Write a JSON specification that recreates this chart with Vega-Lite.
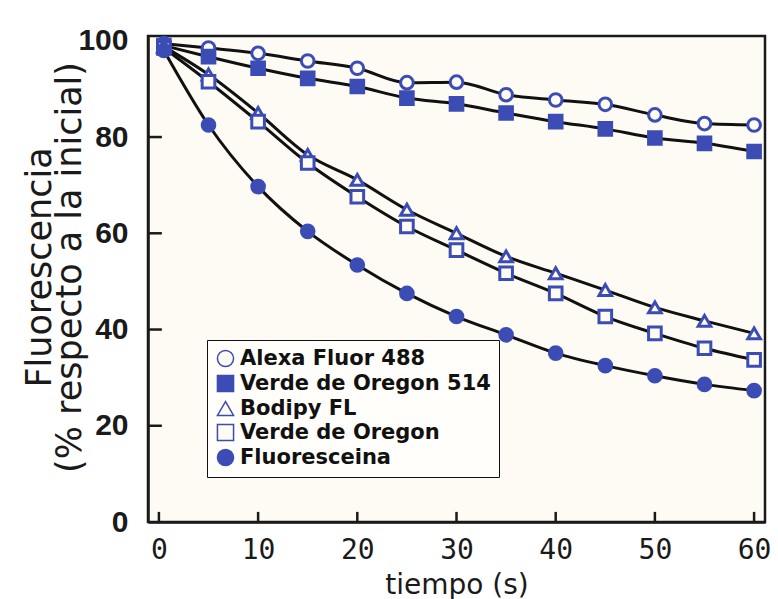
{
  "$schema": "https://vega.github.io/schema/vega-lite/v6.json",
  "width": 617,
  "height": 486,
  "autosize": {"type": "none"},
  "padding": {"left": 148, "top": 36, "right": 13, "bottom": 77},
  "background": "white",
  "config": {
    "view": {"fill": "#fdfbf4", "stroke": "#1a1a1a", "strokeWidth": 2.5},
    "axis": {"grid": false, "domainColor": "#1a1a1a", "domainWidth": 2.5, "tickColor": "#1a1a1a", "tickWidth": 2.5, "labelColor": "#1a1a1a", "titleColor": "#1a1a1a"},
    "legend": {"strokeColor": "#111111", "fillColor": "#fffefa"}
  },
  "data": {
    "values": [
      {"t": 0.5, "f": 99.4, "serie": "Alexa Fluor 488"},
      {"t": 5, "f": 98.5, "serie": "Alexa Fluor 488"},
      {"t": 10, "f": 97.4, "serie": "Alexa Fluor 488"},
      {"t": 15, "f": 95.8, "serie": "Alexa Fluor 488"},
      {"t": 20, "f": 94.3, "serie": "Alexa Fluor 488"},
      {"t": 25, "f": 91.3, "serie": "Alexa Fluor 488"},
      {"t": 30, "f": 91.4, "serie": "Alexa Fluor 488"},
      {"t": 35, "f": 88.8, "serie": "Alexa Fluor 488"},
      {"t": 40, "f": 87.7, "serie": "Alexa Fluor 488"},
      {"t": 45, "f": 86.8, "serie": "Alexa Fluor 488"},
      {"t": 50, "f": 84.6, "serie": "Alexa Fluor 488"},
      {"t": 55, "f": 82.8, "serie": "Alexa Fluor 488"},
      {"t": 60, "f": 82.5, "serie": "Alexa Fluor 488"},
      {"t": 0.5, "f": 99.0, "serie": "Verde de Oregon 514"},
      {"t": 5, "f": 96.7, "serie": "Verde de Oregon 514"},
      {"t": 10, "f": 94.3, "serie": "Verde de Oregon 514"},
      {"t": 15, "f": 92.2, "serie": "Verde de Oregon 514"},
      {"t": 20, "f": 90.5, "serie": "Verde de Oregon 514"},
      {"t": 25, "f": 88.1, "serie": "Verde de Oregon 514"},
      {"t": 30, "f": 86.9, "serie": "Verde de Oregon 514"},
      {"t": 35, "f": 85.0, "serie": "Verde de Oregon 514"},
      {"t": 40, "f": 83.2, "serie": "Verde de Oregon 514"},
      {"t": 45, "f": 81.7, "serie": "Verde de Oregon 514"},
      {"t": 50, "f": 79.8, "serie": "Verde de Oregon 514"},
      {"t": 55, "f": 78.7, "serie": "Verde de Oregon 514"},
      {"t": 60, "f": 77.0, "serie": "Verde de Oregon 514"},
      {"t": 0.5, "f": 98.8, "serie": "Bodipy FL"},
      {"t": 5, "f": 93.0, "serie": "Bodipy FL"},
      {"t": 10, "f": 85.0, "serie": "Bodipy FL"},
      {"t": 15, "f": 76.3, "serie": "Bodipy FL"},
      {"t": 20, "f": 71.1, "serie": "Bodipy FL"},
      {"t": 25, "f": 64.9, "serie": "Bodipy FL"},
      {"t": 30, "f": 60.0, "serie": "Bodipy FL"},
      {"t": 35, "f": 55.2, "serie": "Bodipy FL"},
      {"t": 40, "f": 51.7, "serie": "Bodipy FL"},
      {"t": 45, "f": 48.2, "serie": "Bodipy FL"},
      {"t": 50, "f": 44.6, "serie": "Bodipy FL"},
      {"t": 55, "f": 41.8, "serie": "Bodipy FL"},
      {"t": 60, "f": 39.2, "serie": "Bodipy FL"},
      {"t": 0.5, "f": 98.5, "serie": "Verde de Oregon"},
      {"t": 5, "f": 91.5, "serie": "Verde de Oregon"},
      {"t": 10, "f": 83.2, "serie": "Verde de Oregon"},
      {"t": 15, "f": 74.6, "serie": "Verde de Oregon"},
      {"t": 20, "f": 67.6, "serie": "Verde de Oregon"},
      {"t": 25, "f": 61.4, "serie": "Verde de Oregon"},
      {"t": 30, "f": 56.5, "serie": "Verde de Oregon"},
      {"t": 35, "f": 51.7, "serie": "Verde de Oregon"},
      {"t": 40, "f": 47.5, "serie": "Verde de Oregon"},
      {"t": 45, "f": 42.7, "serie": "Verde de Oregon"},
      {"t": 50, "f": 39.2, "serie": "Verde de Oregon"},
      {"t": 55, "f": 36.1, "serie": "Verde de Oregon"},
      {"t": 60, "f": 33.7, "serie": "Verde de Oregon"},
      {"t": 0.5, "f": 98.0, "serie": "Fluoresceina"},
      {"t": 5, "f": 82.5, "serie": "Fluoresceina"},
      {"t": 10, "f": 69.7, "serie": "Fluoresceina"},
      {"t": 15, "f": 60.4, "serie": "Fluoresceina"},
      {"t": 20, "f": 53.4, "serie": "Fluoresceina"},
      {"t": 25, "f": 47.5, "serie": "Fluoresceina"},
      {"t": 30, "f": 42.7, "serie": "Fluoresceina"},
      {"t": 35, "f": 38.9, "serie": "Fluoresceina"},
      {"t": 40, "f": 35.1, "serie": "Fluoresceina"},
      {"t": 45, "f": 32.5, "serie": "Fluoresceina"},
      {"t": 50, "f": 30.4, "serie": "Fluoresceina"},
      {"t": 55, "f": 28.6, "serie": "Fluoresceina"},
      {"t": 60, "f": 27.3, "serie": "Fluoresceina"}
    ]
  },
  "layer": [
    {
      "data": {"values": [{"v": 0}, {"v": 10}, {"v": 20}, {"v": 30}, {"v": 40}, {"v": 50}, {"v": 60}]},
      "mark": {"type": "rule", "color": "#1a1a1a", "strokeWidth": 2.5},
      "encoding": {
        "x": {
          "field": "v", "type": "quantitative",
          "scale": {"domain": [-1.1, 61.1], "nice": false, "zero": false},
          "axis": {"values": [0, 10, 20, 30, 40, 50, 60], "title": "tiempo (s)", "ticks": false, "labelFont": "DejaVu Sans Mono", "labelFontSize": 28, "labelPadding": 14, "titleFont": "DejaVu Sans", "titleFontSize": 28, "titleFontWeight": "normal", "titlePadding": 7}
        },
        "y": {"datum": 0, "type": "quantitative", "scale": {"domain": [0, 101], "nice": false},
          "axis": {"values": [0, 20, 40, 60, 80, 100], "title": ["Fluorescencia", "(% respecto a la inicial)"], "ticks": false, "labelFont": "Liberation Sans", "labelFontWeight": "bold", "labelFontSize": 30, "labelPadding": 20, "titleFont": "DejaVu Sans", "titleFontSize": 35, "titleFontWeight": "normal", "titleLineHeight": 30, "titlePadding": -10, "titleY": 231}},
        "y2": {"datum": 2.1}
      }
    },
    {
      "data": {"values": [{"v": 20}, {"v": 40}, {"v": 60}, {"v": 80}]},
      "mark": {"type": "rule", "color": "#1a1a1a", "strokeWidth": 2.5},
      "encoding": {
        "y": {"field": "v", "type": "quantitative"},
        "x": {"datum": -1.1, "type": "quantitative"},
        "x2": {"datum": 0.3}
      }
    },
    {
      "mark": {"type": "line", "color": "#111111", "strokeWidth": 3, "interpolate": "monotone"},
      "encoding": {
        "x": {"field": "t", "type": "quantitative"},
        "y": {"field": "f", "type": "quantitative"},
        "detail": {"field": "serie"}
      }
    },
    {
      "mark": {"type": "point", "filled": true, "stroke": "#3b4db5", "strokeWidth": 3, "opacity": 1, "size": 160},
      "encoding": {
        "x": {"field": "t", "type": "quantitative"},
        "y": {"field": "f", "type": "quantitative"},
        "shape": {
          "field": "serie", "type": "nominal",
          "scale": {"domain": ["Alexa Fluor 488", "Verde de Oregon 514", "Bodipy FL", "Verde de Oregon", "Fluoresceina"], "range": ["circle", "square", "triangle-up", "square", "circle"]},
          "legend": {"title": null, "orient": "none", "legendX": 59, "legendY": 304, "labelFont": "DejaVu Sans", "labelFontWeight": "bold", "labelFontSize": 21, "labelColor": "#111111", "symbolSize": 260, "rowPadding": 2, "padding": 8, "labelOffset": 4, "labelLimit": 400,
            "encode": {"symbols": {"update": {"stroke": {"value": "#3b4db5"}, "strokeWidth": {"value": 3}}}}}
        },
        "fill": {
          "field": "serie", "type": "nominal",
          "scale": {"domain": ["Alexa Fluor 488", "Verde de Oregon 514", "Bodipy FL", "Verde de Oregon", "Fluoresceina"], "range": ["#fdfbf4", "#3b4db5", "#fdfbf4", "#fdfbf4", "#3b4db5"]},
          "legend": {"title": null, "orient": "none", "legendX": 59, "legendY": 304, "labelFont": "DejaVu Sans", "labelFontWeight": "bold", "labelFontSize": 21, "labelColor": "#111111", "symbolSize": 260, "rowPadding": 2, "padding": 8, "labelOffset": 4, "labelLimit": 400,
            "encode": {"symbols": {"update": {"stroke": {"value": "#3b4db5"}, "strokeWidth": {"value": 3}}}}}
        }
      }
    }
  ]
}
